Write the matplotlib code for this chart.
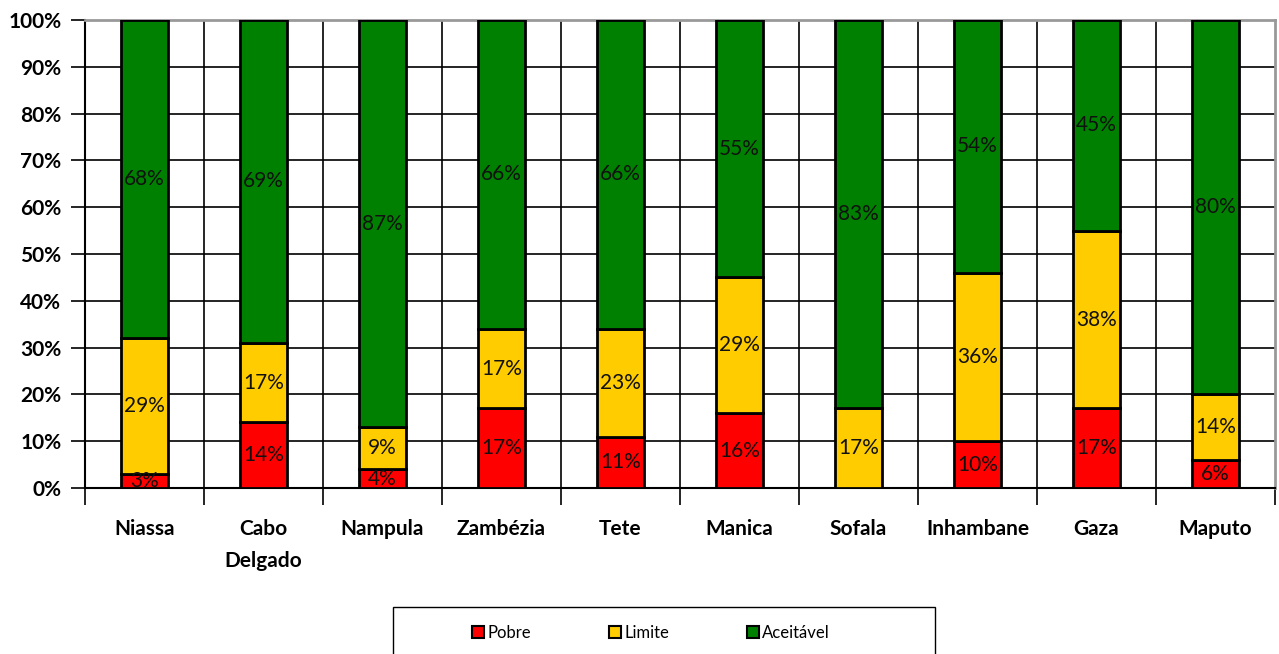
import numpy as np
import matplotlib
matplotlib.use('Agg')
import matplotlib.pyplot as plt
from matplotlib.patches import Rectangle
from matplotlib.ticker import FuncFormatter, MultipleLocator

plt.rcParams['font.family'] = ['Lato', 'DejaVu Sans']

provinces = ['Niassa', 'Cabo\nDelgado', 'Nampula', 'Zambézia', 'Tete',
             'Manica', 'Sofala', 'Inhambane', 'Gaza', 'Maputo']
pobre = [3, 14, 4, 17, 11, 16, 0, 10, 17, 6]
limite = [29, 17, 9, 17, 23, 29, 17, 36, 38, 14]
aceitavel = [68, 69, 87, 66, 66, 55, 83, 54, 45, 80]

series = [('Pobre', pobre, '#ff0000'),
          ('Limite', limite, '#ffcc00'),
          ('Aceitável', aceitavel, '#008000')]

fig = plt.figure(figsize=(12.79, 6.54), dpi=100)
ax = fig.add_axes([85 / 1279, 1 - 488 / 654, (1275 - 85) / 1279, (488 - 20) / 654])

x = np.arange(len(provinces))
bottom = np.zeros(len(provinces))
handles = []
for name, vals, col in series:
    vals = np.array(vals, dtype=float)
    bars = ax.bar(x, vals, 0.4, bottom=bottom, color=col, edgecolor='black',
                  linewidth=2, zorder=3, label=name)
    handles.append(bars)
    for xi, b, v in zip(x, bottom, vals):
        if v > 0:
            ax.text(xi, b + v / 2, f'{int(v)}%', ha='center', va='center',
                    fontsize=15, color='#111111', zorder=4, clip_on=True)
    bottom += vals

ax.set_xlim(-0.5, len(provinces) - 0.5)
ax.set_ylim(0, 100)
ax.yaxis.set_major_locator(MultipleLocator(10))
ax.yaxis.set_major_formatter(FuncFormatter(lambda v, p: f'{int(v)}%'))
ax.grid(axis='y', color='black', linewidth=1.2, zorder=0)
ax.set_xticks(np.arange(-0.5, len(provinces), 1))
ax.set_xticklabels([])
ax.set_xticks(x, minor=True)
ax.set_xticklabels(provinces, minor=True, fontsize=15, fontweight='bold',
                   linespacing=1.8)
ax.tick_params(axis='x', which='major', length=12, width=1.2, direction='out', color='black')
ax.tick_params(axis='x', which='minor', length=0, pad=22)
ax.tick_params(axis='y', length=10, width=1.2, labelsize=15, pad=7)
for lbl in ax.get_yticklabels():
    lbl.set_fontweight('bold')
for xb in np.arange(0.5, len(provinces) - 1, 1):
    ax.axvline(xb, color='black', linewidth=1.2, zorder=0)

ax.spines['top'].set_color('#999999')
ax.spines['right'].set_color('#999999')
ax.spines['left'].set_linewidth(1.5)
ax.spines['bottom'].set_linewidth(1.5)
ax.spines['top'].set_linewidth(2)
ax.spines['right'].set_linewidth(2)

leg = fig.legend(handles=handles, loc='center', bbox_to_anchor=(651 / 1279, 1 - 633 / 654),
                 ncol=3, frameon=False, fontsize=12,
                 handlelength=0.7, handleheight=0.7, handletextpad=0.2,
                 columnspacing=4.7)
for p in leg.get_patches():
    p.set_linewidth(1.5)

# legend box frame
fig.patches.append(Rectangle((393 / 1279, -0.01), 542 / 1279, (654 - 607) / 654 + 0.01,
                             transform=fig.transFigure, fill=False,
                             edgecolor='black', linewidth=1))

fig.savefig('out.png', dpi=100)
